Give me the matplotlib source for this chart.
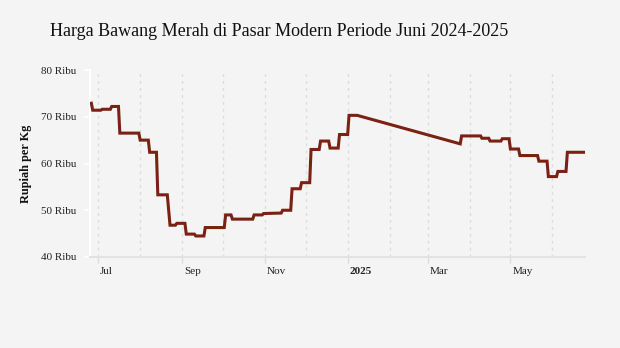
import matplotlib
matplotlib.use("Agg")
import matplotlib.pyplot as plt
import matplotlib.transforms as mtransforms
import pandas as pd

dates = [
    "2024-06-26", "2024-06-27", "2024-07-03", "2024-07-04", "2024-07-10", "2024-07-11",
    "2024-07-16", "2024-07-17", "2024-07-31", "2024-08-01", "2024-08-07", "2024-08-08",
    "2024-08-13", "2024-08-14", "2024-08-21", "2024-08-23", "2024-08-27", "2024-08-28",
    "2024-09-03", "2024-09-04", "2024-09-10", "2024-09-11", "2024-09-17", "2024-09-18",
    "2024-10-02", "2024-10-03", "2024-10-07", "2024-10-08", "2024-10-23", "2024-10-24",
    "2024-10-30", "2024-10-31", "2024-11-13", "2024-11-14", "2024-11-20", "2024-11-21",
    "2024-11-27", "2024-11-28", "2024-12-04", "2024-12-05", "2024-12-11", "2024-12-12",
    "2024-12-18", "2024-12-19", "2024-12-25", "2024-12-26", "2025-01-01", "2025-01-02",
    "2025-01-08", "2025-03-25", "2025-03-26", "2025-04-09", "2025-04-10", "2025-04-15",
    "2025-04-16", "2025-04-24", "2025-04-25", "2025-04-30", "2025-05-01", "2025-05-07",
    "2025-05-08", "2025-05-21", "2025-05-22", "2025-05-28", "2025-05-29", "2025-06-04",
    "2025-06-05", "2025-06-11", "2025-06-12", "2025-06-24",
]
prices = [
    72.9, 71.4, 71.4, 71.6, 71.6, 72.2,
    72.2, 66.5, 66.5, 65.0, 65.0, 62.4,
    62.4, 53.3, 53.3, 46.8, 46.8, 47.2,
    47.2, 44.9, 44.9, 44.5, 44.5, 46.3,
    46.3, 49.0, 49.0, 48.1, 48.1, 49.0,
    49.0, 49.3, 49.4, 50.0, 50.0, 54.6,
    54.6, 55.9, 55.9, 63.0, 63.0, 64.8,
    64.8, 63.3, 63.3, 66.2, 66.2, 70.3,
    70.3, 64.2, 65.9, 65.9, 65.4, 65.4,
    64.8, 64.8, 65.3, 65.3, 63.1, 63.1,
    61.7, 61.7, 60.5, 60.5, 57.2, 57.2,
    58.3, 58.3, 62.4, 62.4,
]
y_ticks = [40, 50, 60, 70, 80]
y_tick_labels = ["40 Ribu", "50 Ribu", "60 Ribu", "70 Ribu", "80 Ribu"]
x_major = ["2024-07-01", "2024-09-01", "2024-11-01", "2025-01-01", "2025-03-01", "2025-05-01"]
x_major_labels = ["Jul", "Sep", "Nov", "2025", "Mar", "May"]
x_minor = ["2024-08-01", "2024-10-01", "2024-12-01", "2025-02-01", "2025-04-01", "2025-06-01"]

title = "Harga Bawang Merah di Pasar Modern Periode Juni 2024-2025"
ylabel = "Rupiah per Kg"

bg = "#f4f4f4"
line_color = "#7a2113"
grid_color = "#dcdcdc"
serif = ["Liberation Serif", "DejaVu Serif"]

plt.rcParams["font.family"] = serif

fig = plt.figure(figsize=(6.2, 3.48), dpi=100, facecolor=bg)
ax = fig.add_axes([90/620, 1-257/348, (585-90)/620, (257-70)/348])
ax.set_facecolor(bg)

d = pd.to_datetime(dates)
ax.plot(d, prices, color=line_color, lw=2.2, solid_joinstyle="miter", zorder=3)

ax.set_xlim(pd.Timestamp("2024-06-25"), pd.Timestamp("2025-06-25"))
ax.set_ylim(40, 80)

ax.set_yticks(y_ticks)
ax.set_yticklabels(y_tick_labels, fontsize=8, color="#222222", family=serif)
ax.tick_params(axis="y", length=4.5, width=1.2, color="white", pad=5.5)

maj = pd.to_datetime(x_major)
mnr = pd.to_datetime(x_minor)
ax.set_xticks(maj)
ax.set_xticklabels(x_major_labels, fontsize=8, color="#222222", ha="left", family=serif)
for lab in ax.get_xticklabels():
    if lab.get_text() == "2025":
        lab.set_fontweight("bold")
ax.set_xticks(mnr, minor=True)
ax.tick_params(axis="x", which="major", length=4, width=1, color=grid_color, pad=3)
ax.tick_params(axis="x", which="minor", length=0)
offset = mtransforms.ScaledTranslation(2/100, 0, fig.dpi_scale_trans)
for lab in ax.get_xticklabels():
    lab.set_transform(lab.get_transform() + offset)

for xv in list(maj) + list(mnr):
    ax.axvline(xv, color=grid_color, lw=1.0, ls=(0, (2, 3)), zorder=1)

for s in ["top", "right"]:
    ax.spines[s].set_visible(False)
ax.spines["left"].set_color("white")
ax.spines["left"].set_linewidth(1.5)
ax.spines["bottom"].set_color("#e2e2e2")
ax.spines["bottom"].set_linewidth(1.5)

ax.set_ylabel(ylabel, fontsize=8.8, fontweight="bold", color="#111111")
ax.yaxis.set_label_coords((32-90)/495, 0.5)

fig.text(50/620, 1-36/348, title, fontsize=13, color="#111111", va="baseline", ha="left")

fig.savefig("out.png", dpi=100, facecolor=bg)
